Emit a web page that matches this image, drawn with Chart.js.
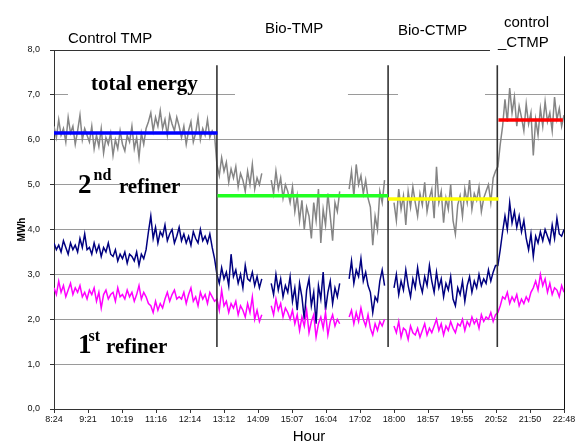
<!DOCTYPE html>
<html><head><meta charset="utf-8">
<script src="https://cdn.jsdelivr.net/npm/chart.js@4"></script>
<style>html,body{margin:0;padding:0;background:#fff}canvas{display:block}</style>
</head><body>
<canvas id="c" width="581" height="447"></canvas>
<script>
// ---- data ----
const tickLabels = ['8:24','9:21','10:19','11:16','12:14','13:12','14:09','15:07','16:04','17:02','18:00','18:57','19:55','20:52','21:50','22:48'];
const tickMinutes = 57.6;      // spacing between tick labels (minutes)
const sampleMinutes = 4;       // spacing between samples (minutes)

// total energy (MWh), null = no data
const totalEnergy = [
 6.3,6.05,6.45,6.1,6.25,5.95,6.5,6.15,6.3,5.9,6.2,6.55,6.0,6.25,6.1,
 5.95,6.3,5.8,6.1,5.85,6.25,5.7,6.05,5.9,6.15,5.65,6.0,5.8,6.2,5.9,5.75,6.1,5.95,6.3,5.8,6.05,5.6,6.15,5.9,6.25,
 6.4,6.6,6.2,6.5,6.3,6.65,6.25,6.45,6.1,6.55,6.35,6.2,6.5,6.3,
 6.05,6.3,5.9,6.2,6.4,5.95,6.15,6.5,6.0,6.25,6.1,6.45,6.05,6.2,6.1,
 5.45,5.2,5.6,5.3,5.5,5.05,5.35,5.15,5.4,4.95,5.25,5.1,4.85,5.3,5.0,5.45,4.9,5.15,5.0,5.25,
 null,null,null,
 5.1,4.8,5.3,4.9,5.15,4.7,5.0,4.85,4.6,4.95,4.4,4.75,4.2,4.65,4.0,4.5,4.3,3.8,4.6,4.2,4.9,3.7,4.45,4.1,4.8,4.3,3.75,4.6,4.4,4.85,
 null,null,null,
 4.9,5.3,4.75,5.45,5.0,5.2,4.8,5.1,4.7,4.5,3.65,4.3,4.0,4.85,4.6,5.1,
 null,null,null,
 4.6,4.2,4.9,4.45,4.75,4.1,4.85,4.5,4.95,4.6,4.3,4.8,4.55,5.05,4.4,4.7,4.9,4.25,5.4,4.6,4.85,4.15,4.7,4.45,5.0,4.2,3.9,4.55,4.75,4.3,4.9,4.6,5.1,4.45,4.8,4.65,4.95,4.4,4.7,4.85,5.0,4.6,5.15,5.3,
 5.4,5.9,6.3,6.9,6.4,7.15,6.6,6.95,6.3,6.75,6.5,6.2,6.8,6.35,6.6,5.65,6.45,6.1,6.7,6.3,6.85,6.4,6.6,6.2,6.95,6.45,6.7,6.3,6.55
];
// 2nd refiner (MWh)
const refiner2 = [
 3.7,3.55,3.65,3.5,3.75,3.6,3.45,3.7,3.55,3.65,3.5,3.8,3.6,3.9,3.55,
 3.6,3.45,3.7,3.5,3.65,3.4,3.6,3.5,3.7,3.45,
 3.4,3.55,3.3,3.45,3.35,3.5,3.25,3.45,3.4,3.3,3.5,3.2,3.45,3.35,3.55,
 3.95,4.3,3.8,4.05,3.7,3.95,3.85,4.1,3.75,3.9,4.0,3.7,3.85,4.05,
 3.75,3.9,3.7,3.85,3.65,3.95,3.8,3.7,4.0,3.75,3.85,3.7,3.9,3.6,3.35,
 3.0,2.8,3.15,2.9,3.05,2.75,3.45,2.95,3.1,2.8,3.0,2.7,3.2,2.9,2.85,3.05,2.75,2.95,2.7,2.9,
 null,null,null,
 2.8,2.55,3.0,2.65,2.9,2.5,2.75,2.6,2.95,2.4,2.7,2.2,2.8,2.5,2.0,2.65,2.9,2.3,2.6,1.9,2.75,2.45,3.05,2.2,2.6,2.85,2.35,2.7,2.5,2.8,
 null,null,null,
 2.9,3.3,2.8,3.1,2.95,3.35,2.85,3.05,2.75,2.6,2.15,2.5,2.4,2.85,3.1,2.75,
 null,null,null,
 2.7,3.0,2.55,2.85,2.65,3.1,2.75,2.5,2.9,2.7,3.15,2.8,2.6,2.95,2.75,3.2,2.85,2.6,3.05,2.7,2.9,2.5,2.8,2.65,2.95,2.45,2.3,2.7,2.55,2.85,2.4,2.75,2.95,2.6,2.85,2.7,3.0,2.75,2.9,2.8,3.1,2.85,3.05,3.2,
 3.2,3.55,3.95,4.3,4.0,4.6,4.15,4.4,4.05,4.3,3.95,4.2,3.8,3.55,3.9,3.4,3.85,3.7,3.95,3.75,4.0,3.85,3.7,4.1,3.8,4.25,3.9,3.85,4.0
];
// 1st refiner (MWh)
const refiner1 = [
 2.7,2.55,2.85,2.6,2.75,2.5,2.65,2.8,2.55,2.7,2.6,2.75,2.5,
 2.6,2.45,2.65,2.55,2.7,2.4,2.6,2.25,2.55,2.65,2.45,
 2.55,2.6,2.4,2.7,2.5,2.55,2.45,2.65,2.5,2.6,2.4,2.55,2.75,2.45,2.6,2.5,2.35,
 2.3,2.15,2.4,2.2,2.35,2.25,
 2.45,2.6,2.4,2.55,2.65,2.45,2.5,
 2.45,2.6,2.35,2.55,2.7,2.4,2.5,2.3,2.6,2.45,2.55,2.35,2.6,2.5,2.4,
 2.45,2.2,2.65,2.3,2.4,2.15,2.35,2.25,2.4,2.1,2.3,2.2,2.05,2.35,2.15,2.5,2.0,2.2,1.95,2.1,
 null,null,null,
 2.3,2.1,2.45,2.2,2.35,2.05,2.25,2.15,2.0,2.2,1.9,2.1,1.75,2.05,1.85,2.2,1.7,1.95,2.1,1.6,1.9,2.05,1.8,2.15,1.65,1.95,2.1,1.85,2.0,1.9,
 null,null,null,
 2.05,2.2,1.9,2.15,1.95,2.25,2.0,1.85,2.1,1.8,1.65,1.9,1.75,1.95,1.85,2.0,
 null,null,null,
 1.85,1.7,1.95,1.6,1.8,1.75,1.55,1.85,1.7,1.65,1.8,1.6,1.75,1.9,1.65,1.8,1.7,1.85,2.0,1.75,1.9,1.65,1.85,1.75,1.95,1.8,1.7,1.9,1.85,2.0,1.75,1.95,1.85,2.05,1.9,2.0,1.8,2.1,1.95,2.05,2.0,2.15,1.95,2.1,
 2.15,2.3,2.5,2.45,2.6,2.35,2.5,2.4,2.55,2.3,2.45,2.35,2.5,2.4,2.6,2.7,2.85,2.65,3.0,2.75,2.9,2.6,2.8,2.55,2.7,2.65,2.5,2.75,2.6
];
// period averages of total energy
const periodBounds = [0, 277, 566, 753, 862];      // minutes from 8:24
const periodMeans  = [6.15, 4.75, 4.68, 6.44];
const periodColors = ['#0000ff', '#22ff22', '#ffff00', '#ff0000'];
const separatorMinutes = [276, 566, 751];
const separatorRange = [1.38, 7.66];

// ---- build datasets ----
const toPts = arr => arr.map((v, i) => ({x: i * sampleMinutes, y: v}));
const datasets = [];
periodMeans.forEach((m, k) => datasets.push({
  data: [{x: periodBounds[k], y: m}, {x: periodBounds[k + 1], y: m}],
  borderColor: periodColors[k], borderWidth: 3.5, pointRadius: 0, order: 0
}));
separatorMinutes.forEach(s => datasets.push({
  data: [{x: s, y: separatorRange[0]}, {x: s, y: separatorRange[1]}],
  borderColor: '#333', borderWidth: 1.6, pointRadius: 0, order: 1
}));
datasets.push({data: toPts(refiner1), borderColor: '#ff00ff', borderWidth: 1.5, pointRadius: 0, order: 2, spanGaps: false});
datasets.push({data: toPts(refiner2), borderColor: '#000080', borderWidth: 1.5, pointRadius: 0, order: 3, spanGaps: false});
datasets.push({data: toPts(totalEnergy), borderColor: '#858585', borderWidth: 1.5, pointRadius: 0, order: 4, spanGaps: false});

// ---- text & decoration (positions in data coordinates) ----
const serif = '"Liberation Serif","Times New Roman",serif';
const sans = '"Liberation Sans",Arial,sans-serif';
const labels = [
  {t: 62.7, v: 7.11, runs: [{s: 'total energy', f: 'bold 21px ' + serif}]},
  {t: 40.7, v: 4.81, runs: [{s: '2', f: 'bold 27px ' + serif}, {s: 'nd', f: 'bold 16px ' + serif, rise: 13, gap: 2}]},
  {t: 110, v: 4.81, runs: [{s: 'refiner', f: 'bold 21px ' + serif}]},
  {t: 40.7, v: 1.25, runs: [{s: '1', f: 'bold 27px ' + serif}, {s: 'st', f: 'bold 16px ' + serif, rise: 12, gap: -3}]},
  {t: 88, v: 1.25, runs: [{s: 'refiner', f: 'bold 21px ' + serif}]},
  {t: 23.7, v: 8.156, runs: [{s: 'Control TMP', f: '15px ' + sans}]},
  {t: 357.5, v: 8.379, runs: [{s: 'Bio-TMP', f: '15px ' + sans}]},
  {t: 582.8, v: 8.334, runs: [{s: 'Bio-CTMP', f: '15px ' + sans}]},
  {t: 762.4, v: 8.513, runs: [{s: 'control', f: '15px ' + sans}]},
  {t: 752.2, v: 8.067, runs: [{s: '_CTMP', f: '15px ' + sans}]}
];
const gridCovers = [[23.7, 230.4, 7], [306.6, 498, 7], [582.8, 730.2, 7], [738.6, 870, 8]];

const decor = {
  id: 'decor',
  beforeDatasetsDraw(chart) {
    const {ctx, scales: {x, y}} = chart;
    ctx.save();
    ctx.fillStyle = '#fff';
    gridCovers.forEach(([a, b, v]) => {
      const x0 = x.getPixelForValue(a), x1 = x.getPixelForValue(b), yy = y.getPixelForValue(v);
      ctx.fillRect(x0, yy - 2, x1 - x0, 4);
    });
    ctx.restore();
  },
  afterDatasetsDraw(chart) {
    const {ctx, chartArea, scales: {x, y}} = chart;
    ctx.save();
    ctx.strokeStyle = '#111';
    ctx.lineWidth = 1;
    ctx.beginPath();
    const rx = Math.round(chartArea.right) + 0.5;
    ctx.moveTo(rx, y.getPixelForValue(7.86));
    ctx.lineTo(rx, chartArea.bottom);
    ctx.stroke();
    ctx.fillStyle = '#000';
    ctx.textBaseline = 'alphabetic';
    ctx.textAlign = 'left';
    labels.forEach(l => {
      let px = x.getPixelForValue(l.t);
      const py = y.getPixelForValue(l.v);
      l.runs.forEach(r => {
        ctx.font = r.f;
        px += (r.gap || 0);
        ctx.fillText(r.s, px, py - (r.rise || 0));
        px += ctx.measureText(r.s).width;
      });
    });
    ctx.restore();
  }
};

new Chart(document.getElementById('c'), {
  type: 'line',
  data: {datasets},
  plugins: [decor],
  options: {
    responsive: false,
    animation: false,
    devicePixelRatio: 1,
    layout: {padding: {top: 50, right: 17, bottom: 0, left: 0}},
    plugins: {legend: {display: false}, tooltip: {enabled: false}},
    elements: {line: {tension: 0}},
    scales: {
      x: {
        type: 'linear', min: 0, max: tickMinutes * (tickLabels.length - 1),
        afterBuildTicks: s => { s.ticks = tickLabels.map((_, i) => ({value: i * tickMinutes})); },
        afterFit: s => { s.height = 38; },
        ticks: {
          autoSkip: false, maxRotation: 0, padding: 1, color: '#111',
          font: {family: sans, size: 9},
          callback: (v, i) => tickLabels[i]
        },
        grid: {drawOnChartArea: false, drawTicks: true, tickLength: 4, tickColor: '#333'},
        border: {color: '#333', width: 1},
        title: {display: true, text: 'Hour', color: '#000', font: {family: sans, size: 15}, padding: {top: 0, bottom: 1}}
      },
      y: {
        min: 0, max: 8,
        afterFit: s => { s.width = 54; },
        ticks: {
          stepSize: 1, padding: 10, color: '#111',
          font: {family: sans, size: 9},
          callback: v => Number(v).toFixed(1).replace('.', ',')
        },
        grid: {
          color: c => (c.tick && c.tick.value === 8) ? '#333' : '#9a9a9a',
          lineWidth: 1, tickLength: 4, tickColor: '#333'
        },
        border: {color: '#333', width: 1},
        title: {display: true, text: 'MWh', color: '#000', font: {family: sans, size: 10, weight: 'bold'}, padding: {top: 16, bottom: 0}}
      }
    }
  }
});
</script>
</body></html>
